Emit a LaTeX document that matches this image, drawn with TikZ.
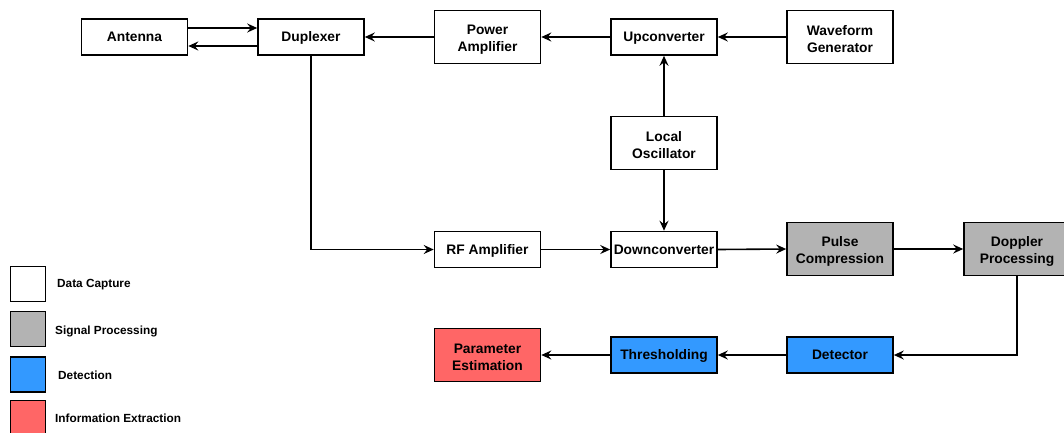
\documentclass[tikz,border=0pt]{standalone}
\usepackage{fontspec}
\setmainfont{Liberation Sans}
\usetikzlibrary{arrows.meta}
\definecolor{sgray}{HTML}{B3B3B3}
\definecolor{sblue}{HTML}{3399FF}
\definecolor{sred}{HTML}{FF6666}
\tikzset{
  blk/.style={draw=black, line width=1.6pt, fill=white, minimum width=106pt, font=\fontsize{13.8}{16.5}\selectfont\bfseries, inner sep=1pt},
  small/.style={blk, minimum height=36pt, text height=0.95em, text depth=0pt},
  tall/.style={blk, align=center, minimum height=53pt},
  conn/.style={line width=1.6pt, -{Stealth[length=10pt, width=9pt, inset=3.5pt]}},
  legbox/.style={draw=black, line width=1.6pt, minimum width=35pt, minimum height=35pt, inner sep=0pt},
  legtxt/.style={anchor=west, font=\fontsize{11.8}{14}\selectfont\bfseries, inner sep=0pt}
}
\begin{document}
\begin{tikzpicture}[x=1pt, y=-1pt]
\useasboundingbox (0,0) rectangle (1064,432);
% top row
\node[small] (ant) at (134.5,37) {Antenna};
\node[small] (dup) at (311,37) {Duplexer};
\node[tall] (pa) at (487.5,37) {\rule{0pt}{1.05em}Power\\Amplifier};
\node[small] (up) at (664,37) {Upconverter};
\node[tall] (wg) at (840,37) {\rule{0pt}{1.05em}Waveform\\Generator};
\node[tall] (lo) at (664,143) {\rule{0pt}{1.05em}Local\\Oscillator};
% middle row
\node[small] (rf) at (487.5,249.5) {RF Amplifier};
\node[small, inner sep=0pt] (down) at (664,249.5) {Downconverter};
\node[tall, fill=sgray] (pc) at (840,249) {\rule{0pt}{1.05em}Pulse\\Compression};
\node[tall, fill=sgray] (dp) at (1017,249) {\rule{0pt}{1.05em}Doppler\\Processing};
% bottom row
\node[small, fill=sblue] (det) at (840,355) {Detector};
\node[small, fill=sblue] (thr) at (664,355) {Thresholding};
\node[tall, fill=sred] (pe) at (487.5,355) {\rule{0pt}{1.05em}Parameter\\Estimation};
% connectors
\draw[conn] ([yshift=9pt]ant.east) -- ([yshift=9pt]dup.west);
\draw[conn] ([yshift=-9pt]dup.west) -- ([yshift=-9pt]ant.east);
\draw[conn] (pa.west) -- (dup.east);
\draw[conn] (up.west) -- (pa.east);
\draw[conn] (wg.west) -- (up.east);
\draw[conn] (lo.north) -- (up.south);
\draw[conn] (lo.south) -- (down.north);
\draw[conn] (dup.south) |- (rf.west);
\draw[conn] (rf.east) -- (down.west);
\draw[conn] (down.east) -- (pc.west);
\draw[conn] (pc.east) -- (dp.west);
\draw[conn] (dp.south) |- (det.east);
\draw[conn] (det.west) -- (thr.east);
\draw[conn] (thr.west) -- (pe.east);
% legend
\node[legbox, fill=white] (l1) at (28,284) {};
\node[legbox, fill=sgray] (l2) at (28,329) {};
\node[legbox, fill=sblue] (l3) at (28,374.5) {};
\node[legbox, fill=sred] (l4) at (28,418) {};
\node[legtxt] (t1) at (57,285) {Data Capture};
\node[legtxt] (t2) at (55,331) {Signal Processing};
\node[legtxt] (t3) at (58,375) {Detection};
\node[legtxt] (t4) at (55,418) {Information Extraction};
\end{tikzpicture}
\end{document}
